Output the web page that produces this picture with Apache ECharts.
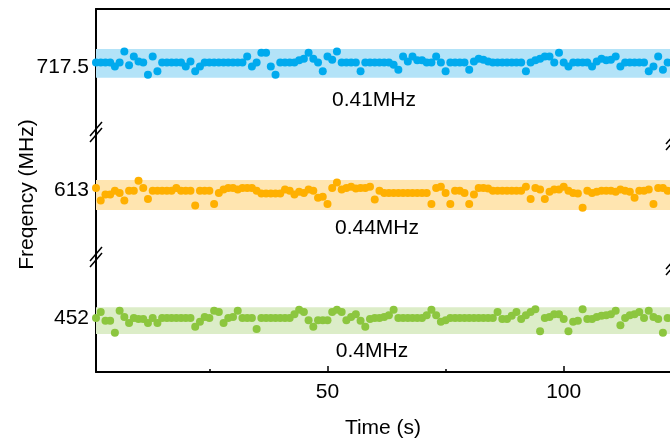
<!DOCTYPE html>
<html><head><meta charset="utf-8">
<script src="https://cdn.jsdelivr.net/npm/echarts@6/dist/echarts.min.js"></script>
<style>html,body{margin:0;padding:0;background:#fff}#c{width:670px;height:445px}</style>
</head><body><div id="c"></div>
<script>
// ---- data ----
const timeS = [1,2,3,4,5,6,7,8,9,10,11,12,13,14,15,16,17,18,19,20,21,22,23,24,25,26,27,28,29,30,
31,32,33,34,35,36,37,38,39,40,41,42,43,44,45,46,47,48,49,50,51,52,53,54,55,56,57,58,59,60,
61,62,63,64,65,66,67,68,69,70,71,72,73,74,75,76,77,78,79,80,81,82,83,84,85,86,87,88,89,90,
91,92,93,94,95,96,97,98,99,100,101,102,103,104,105,106,107,108,109,110,111,112,113,114,115,116,117,118,119,120,
121,122,123];

const blueMHz = [
717.59,717.59,717.59,717.59,717.52,717.59,717.79,717.54,717.70,717.61,
717.59,717.37,717.70,717.43,717.59,717.59,717.59,717.59,717.59,717.52,
717.61,717.43,717.52,717.59,717.59,717.59,717.59,717.59,717.59,717.59,
717.59,717.59,717.70,717.52,717.59,717.77,717.77,717.52,717.37,717.59,
717.59,717.59,717.59,717.63,717.66,717.77,717.66,717.59,717.43,717.70,
717.64,717.79,717.59,717.59,717.59,717.59,717.43,717.59,717.59,717.59,
717.59,717.59,717.59,717.55,717.46,717.70,717.61,717.70,717.63,717.63,
717.59,717.59,717.70,717.59,717.43,717.59,717.59,717.59,717.59,717.46,
717.61,717.66,717.64,717.61,717.59,717.59,717.59,717.59,717.59,717.59,
717.59,717.43,717.59,717.63,717.66,717.70,717.70,717.59,717.77,717.59,
717.52,717.59,717.59,717.59,717.59,717.52,717.61,717.66,717.63,717.64,
717.70,717.52,717.59,717.59,717.59,717.59,717.59,717.43,717.52,717.70,
717.46,717.59,717.59];

const orangeMHz = [
613.05,612.82,612.93,612.93,613.00,612.96,612.82,613.00,613.00,613.18,
613.05,612.85,613.00,613.00,613.00,613.00,613.00,613.05,613.00,613.00,
613.00,612.73,613.00,613.00,613.00,612.76,612.96,613.02,613.05,613.05,
613.02,613.05,613.05,613.05,613.00,612.95,612.95,612.95,612.95,612.95,
613.02,613.00,612.93,612.98,612.96,613.02,613.00,612.87,612.89,612.76,
613.05,613.15,613.02,613.05,613.07,613.04,613.05,613.05,613.07,612.84,
613.00,612.96,612.96,612.96,612.96,612.96,612.96,612.96,612.96,612.96,
612.96,612.76,613.05,613.07,612.96,612.76,613.00,613.00,612.96,612.76,
612.93,613.05,613.05,613.04,613.00,613.00,613.00,613.00,613.00,613.00,
613.00,613.07,612.85,613.05,613.02,612.85,612.98,613.02,613.02,613.07,
613.00,612.96,612.95,612.69,613.00,612.96,612.98,613.00,613.00,613.00,
612.98,613.02,613.00,612.98,612.87,613.00,613.00,613.02,612.76,613.05,
613.05,613.00,613.00];

const greenMHz = [
452.00,452.11,451.95,451.95,451.73,452.13,452.02,451.91,452.00,451.98,
451.98,451.91,452.00,451.91,452.00,452.00,452.00,452.00,452.00,452.00,
452.00,451.84,451.93,452.02,452.00,452.13,452.11,451.91,452.00,452.02,
452.13,452.00,452.00,452.00,451.80,452.00,452.00,452.00,452.00,452.00,
452.00,452.00,452.07,452.15,452.11,451.96,451.84,451.96,451.96,451.96,
452.11,452.15,452.11,451.96,452.02,452.07,451.95,451.84,451.98,452.00,
452.00,452.02,452.05,452.15,452.00,452.00,452.00,452.00,452.00,452.00,
452.05,452.15,452.05,451.93,451.96,452.00,452.00,452.00,452.00,452.00,
452.00,452.00,452.00,452.00,452.00,452.11,451.98,451.98,452.04,452.11,
451.98,452.05,452.11,452.16,451.76,452.00,452.02,452.07,452.07,451.98,
451.76,451.93,451.95,452.16,451.98,451.98,452.02,452.04,452.05,452.07,
452.13,451.87,452.00,452.05,452.07,452.11,452.00,452.13,452.02,451.98,
451.73,452.00,452.00];

const yTickValues = [717.5, 613, 452];
const bandLow  = [717.315, 612.649, 451.709];
const bandHigh = [717.836, 613.195, 452.195];
const spreadLabels = ['0.41MHz', '0.44MHz', '0.4MHz'];
const xTickLabels = [50, 100];
const xMinorTicks = [25, 75];

// ---- layout / style ----
const FONT = 'Liberation Sans, Arial, Helvetica, sans-serif';
const FS = 21;
const PX_PER_MHZ = 55;
const segs = [
  {top: 9,   bottom: 132, tickY: 67.5},
  {top: 132, bottom: 257, tickY: 190.7},
  {top: 257, bottom: 372, tickY: 318}
];
const dotColors = ['#00AAEE', '#FFB000', '#8CC63F'];
const bandColors = ['#B3E3F8', '#FFE5B0', '#DCEDC8'];
const series = [blueMHz, orangeMHz, greenMHz];
const X_MIN = 1, X_MAX = 122.5;

const grids = [], xAxes = [], yAxes = [], ser = [];
segs.forEach((s, i) => {
  grids.push({left: 96, right: -2, top: s.top, height: s.bottom - s.top});
  const c = yTickValues[i];
  yAxes.push({
    gridIndex: i, type: 'value',
    min: c - (s.bottom - s.tickY) / PX_PER_MHZ,
    max: c + (s.tickY - s.top) / PX_PER_MHZ,
    axisLine: {show: true, onZero: false, lineStyle: {color: '#000', width: 2}},
    axisTick: {show: true, inside: true, length: 4, customValues: [c], lineStyle: {color: '#000', width: 1.5}},
    axisLabel: {show: true, customValues: [c], color: '#000', fontSize: FS, fontFamily: FONT, margin: 7},
    splitLine: {show: false},
    name: i === 1 ? 'Freqency (MHz)' : '',
    nameLocation: 'middle', nameGap: 58, nameRotate: 90,
    nameTextStyle: {color: '#000', fontSize: FS, fontFamily: FONT}
  });
  if (i === 0) {
    xAxes.push({gridIndex: 0, type: 'value', min: X_MIN, max: X_MAX, position: 'top',
      axisLine: {show: true, onZero: false, lineStyle: {color: '#000', width: 2}},
      axisTick: {show: false}, axisLabel: {show: false}, splitLine: {show: false}});
  } else if (i === 1) {
    xAxes.push({gridIndex: 1, type: 'value', min: X_MIN, max: X_MAX, show: false, splitLine: {show: false}});
  } else {
    xAxes.push({gridIndex: 2, type: 'value', min: X_MIN, max: X_MAX, position: 'bottom',
      axisLine: {show: true, onZero: false, lineStyle: {color: '#000', width: 2}},
      axisTick: {show: true, inside: true, length: 6, customValues: xTickLabels, lineStyle: {color: '#000', width: 1.5}},
      axisLabel: {show: true, customValues: xTickLabels, color: '#000', fontSize: FS, fontFamily: FONT, margin: 10},
      splitLine: {show: false},
      name: 'Time (s)', nameLocation: 'middle', nameGap: 46,
      nameTextStyle: {color: '#000', fontSize: FS, fontFamily: FONT}});
  }
  ser.push({
    type: 'scatter', xAxisIndex: i, yAxisIndex: i,
    symbol: 'circle', symbolSize: 8,
    itemStyle: {color: dotColors[i], opacity: 1},
    data: timeS.map((t, j) => [t, series[i][j]]),
    markArea: {silent: true, itemStyle: {color: bandColors[i], opacity: 1},
      data: [[{yAxis: bandLow[i]}, {yAxis: bandHigh[i]}]]},
    z: 3
  });
});
// minor ticks on bottom axis
xAxes.push({gridIndex: 2, type: 'value', min: X_MIN, max: X_MAX, position: 'bottom',
  axisLine: {show: false},
  axisTick: {show: true, inside: true, length: 3, customValues: xMinorTicks, lineStyle: {color: '#000', width: 1.5}},
  axisLabel: {show: false}, splitLine: {show: false}});

// break marks and spread labels (decoration)
const graphics = [];
function breakMark(x, y) {
  [-3, 3].forEach(d => graphics.push({type: 'line', z: 100,
    shape: {x1: x - 6, y1: y + d + 7, x2: x + 6, y2: y + d - 7},
    style: {stroke: '#000', lineWidth: 1.5}}));
}
breakMark(96, 132); breakMark(96, 257);
breakMark(672, 140); breakMark(672, 265);
const labelPos = [[374, 100], [377, 228], [372, 351]];
spreadLabels.forEach((t, i) => graphics.push({type: 'text', z: 100, x: labelPos[i][0], y: labelPos[i][1],
  style: {text: t, fill: '#000', font: FS + 'px ' + FONT, textAlign: 'center', textVerticalAlign: 'middle'}}));

const chart = echarts.init(document.getElementById('c'), null, {renderer: 'canvas'});
chart.setOption({
  animation: false,
  backgroundColor: '#fff',
  grid: grids, xAxis: xAxes, yAxis: yAxes, series: ser,
  graphic: graphics
});
</script></body></html>
